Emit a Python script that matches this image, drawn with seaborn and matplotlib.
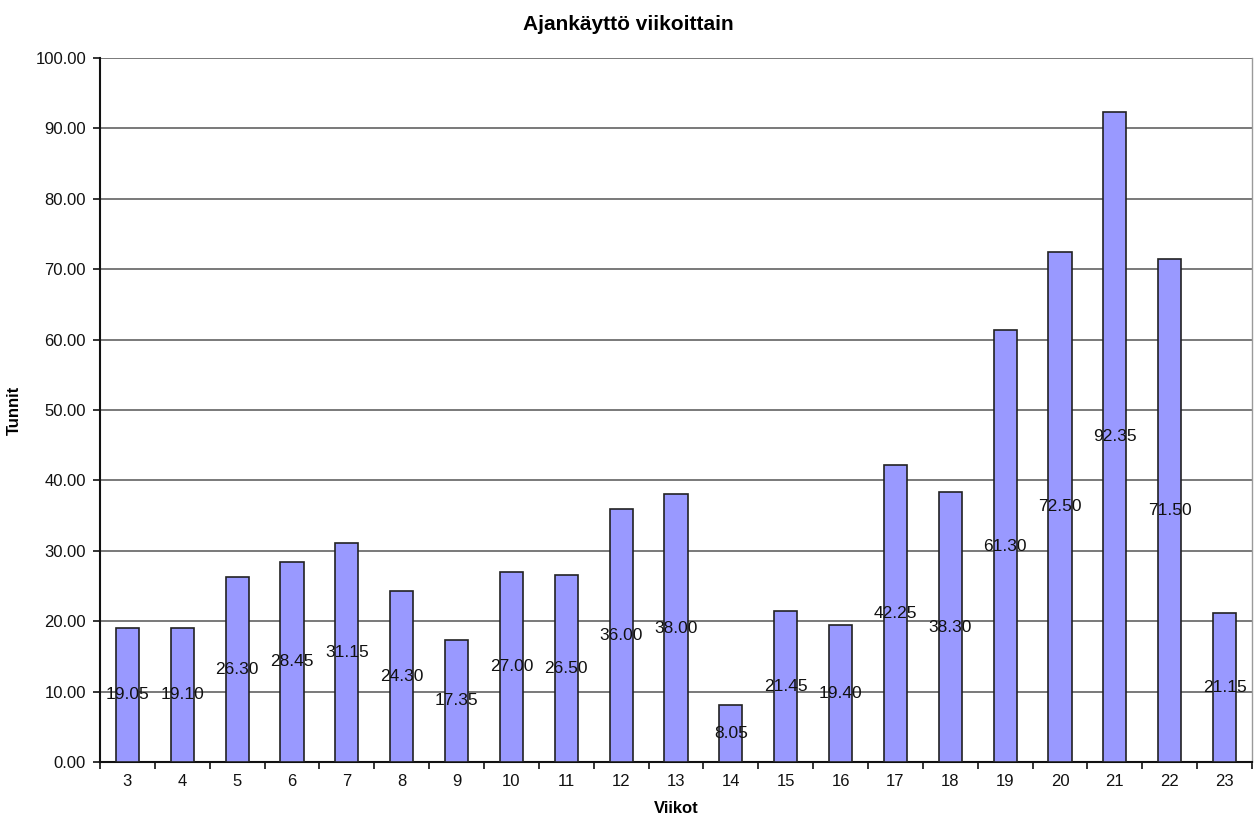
import matplotlib
matplotlib.use("Agg")
import matplotlib.pyplot as plt
import seaborn as sns
import pandas as pd
from matplotlib.ticker import MultipleLocator, FixedLocator

weeks = ["3", "4", "5", "6", "7", "8", "9", "10", "11", "12", "13", "14",
         "15", "16", "17", "18", "19", "20", "21", "22", "23"]
hours = [19.05, 19.10, 26.30, 28.45, 31.15, 24.30, 17.35, 27.00, 26.50, 36.00,
         38.00, 8.05, 21.45, 19.40, 42.25, 38.30, 61.30, 72.50, 92.35, 71.50, 21.15]

df = pd.DataFrame({"Viikot": weeks, "Tunnit": hours})

sns.set_theme(style="white")
plt.rcParams["font.family"] = ["Liberation Sans", "DejaVu Sans"]
plt.rcParams["text.color"] = "#000000"
plt.rcParams["axes.labelcolor"] = "#000000"

fig = plt.figure(figsize=(12.54, 8.19), dpi=100)
ax = fig.add_axes([100/1254, 1 - 762/819, 1152/1254, 704/819])

sns.barplot(data=df, x="Viikot", y="Tunnit", ax=ax, color="#9999FF",
            saturation=1, width=0.42, edgecolor="#222222", linewidth=1.2,
            zorder=3)

for i, v in enumerate(hours):
    ax.text(i, v / 2, f"{v:.2f}", ha="center", va="center", fontsize=12.5,
            color="#111111", zorder=4)

ax.set_ylim(0, 100)
ax.set_xlim(-0.5, len(weeks) - 0.5)
ax.yaxis.set_major_locator(MultipleLocator(10))
ax.yaxis.set_major_formatter(matplotlib.ticker.FormatStrFormatter("%.2f"))
ax.grid(axis="y", color="#6e6e6e", linewidth=1.3, zorder=1)
ax.set_axisbelow(True)

ax.xaxis.set_minor_locator(FixedLocator([i + 0.5 for i in range(-1, len(weeks))]))
ax.tick_params(axis="x", which="major", length=0, pad=9, labelsize=12, colors="#111111")
ax.tick_params(axis="x", which="minor", length=5, width=1.2, direction="out",
               color="#111111", bottom=True)
ax.tick_params(axis="y", which="major", length=5, width=1.2, direction="out",
               left=True, labelsize=12, colors="#111111", pad=5)

for side in ["left", "bottom"]:
    ax.spines[side].set_color("#111111")
    ax.spines[side].set_linewidth(1.5)
ax.spines["top"].set_visible(False)
ax.spines["right"].set_color("#9a9a9a")
ax.spines["right"].set_linewidth(1.0)

ax.set_xlabel("Viikot", fontsize=12, fontweight="bold", labelpad=8, color="#000000")
ax.set_ylabel("Tunnit", fontsize=12, fontweight="bold", labelpad=10, color="#000000")
fig.text(628/1254, 1 - 25/819, "Ajankäyttö viikoittain", ha="center", va="center",
         fontsize=15, fontweight="bold", color="#000000")

fig.savefig("out.png", dpi=100, facecolor="white")
